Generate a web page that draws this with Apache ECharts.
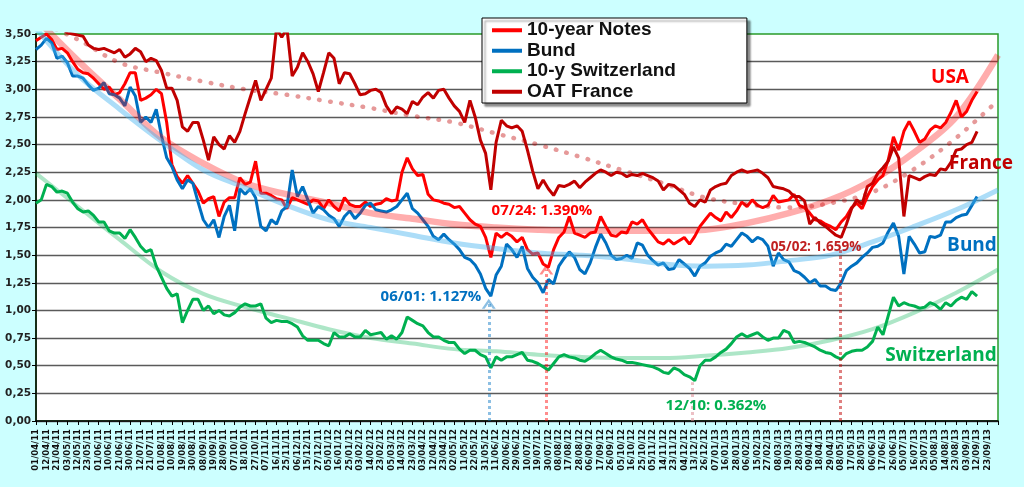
<!DOCTYPE html>
<html>
<head>
<meta charset="utf-8">
<style>
  html, body { margin: 0; padding: 0; background: #ccffff; }
  #chart { width: 1024px; height: 487px; }
</style>
<script src="https://cdn.jsdelivr.net/npm/echarts@6/dist/echarts.min.js"></script>
</head>
<body>
<div id="chart"></div>
<script>
// tick labels (one every ~7 trading days)
const dateLabels = [
  '01/04/11','12/04/11','21/04/11','03/05/11','12/05/11','23/05/11','01/06/11','10/06/11','21/06/11','30/06/11',
  '12/07/11','21/07/11','01/08/11','10/08/11','19/08/11','30/08/11','08/09/11','19/09/11','28/09/11','07/10/11',
  '18/10/11','27/10/11','07/11/11','16/11/11','25/11/11','06/12/11','15/12/11','27/12/11','05/01/12','16/01/12',
  '25/01/12','03/02/12','14/02/12','23/02/12','05/03/12','14/03/12','23/03/12','03/04/12','12/04/12','23/04/12',
  '02/05/12','11/05/12','22/05/12','31/05/12','11/06/12','20/06/12','29/06/12','10/07/12','19/07/12','30/07/12',
  '08/08/12','17/08/12','28/08/12','06/09/12','17/09/12','26/09/12','05/10/12','16/10/12','25/10/12','05/11/12',
  '14/11/12','23/11/12','04/12/12','13/12/12','26/12/12','07/01/13','16/01/13','28/01/13','06/02/13','15/02/13',
  '27/02/13','08/03/13','19/03/13','28/03/13','09/04/13','18/04/13','29/04/13','08/05/13','17/05/13','28/05/13',
  '06/06/13','17/06/13','26/06/13','05/07/13','16/07/13','25/07/13','05/08/13','14/08/13','23/08/13','03/09/13',
  '12/09/13','23/09/13'
];

// yields, two samples per tick label
const usNotes = [
  3.44,3.47,3.50,3.45,3.36,3.37,3.33,3.25,3.18,3.15,
  3.14,3.10,3.05,3.00,3.02,2.95,2.97,3.05,3.15,3.15,
  2.90,2.92,2.95,3.00,2.96,2.70,2.32,2.21,2.15,2.22,
  2.15,2.08,1.97,2.01,2.03,1.85,1.98,2.02,2.02,2.20,
  2.14,2.16,2.35,2.06,2.06,2.04,2.01,2.00,1.92,2.02,
  2.00,1.98,1.96,2.00,1.99,1.92,2.00,1.94,1.90,2.02,
  1.96,1.94,1.94,1.98,1.94,1.96,1.97,2.01,1.99,2.00,
  2.25,2.38,2.28,2.22,2.23,2.05,2.00,1.99,1.97,1.96,
  1.93,1.94,1.88,1.82,1.78,1.76,1.66,1.48,1.70,1.66,
  1.70,1.67,1.62,1.66,1.55,1.51,1.52,1.42,1.39,1.55,
  1.66,1.71,1.85,1.70,1.68,1.66,1.70,1.71,1.85,1.76,
  1.68,1.67,1.71,1.70,1.80,1.78,1.82,1.74,1.68,1.62,
  1.60,1.64,1.60,1.63,1.66,1.60,1.67,1.76,1.82,1.88,
  1.84,1.81,1.89,1.84,1.90,1.98,1.94,2.00,1.95,1.93,
  1.95,2.04,1.98,1.99,2.00,2.05,1.95,1.93,1.88,1.82,
  1.81,1.78,1.76,1.73,1.80,1.85,1.93,1.97,1.92,2.03,
  2.12,2.18,2.22,2.36,2.57,2.45,2.62,2.71,2.62,2.52,
  2.55,2.63,2.67,2.65,2.70,2.79,2.90,2.75,2.80,2.90,
  2.98
];
const bund = [
  3.36,3.40,3.46,3.42,3.28,3.30,3.24,3.12,3.12,3.10,
  3.04,2.99,3.01,3.06,2.96,2.95,2.92,2.85,3.02,2.94,
  2.70,2.75,2.70,2.82,2.58,2.38,2.30,2.18,2.10,2.18,
  2.15,1.98,1.82,1.75,1.82,1.66,1.85,1.95,1.72,2.10,
  2.05,2.10,2.02,1.76,1.72,1.82,1.78,1.90,1.94,2.27,
  2.03,2.12,2.00,1.88,1.94,1.91,1.86,1.83,1.76,1.85,
  1.90,1.83,1.88,1.95,1.97,1.91,1.90,1.89,1.91,1.94,
  2.00,2.06,1.92,1.88,1.82,1.76,1.67,1.64,1.69,1.64,
  1.60,1.55,1.48,1.46,1.41,1.33,1.20,1.13,1.32,1.40,
  1.60,1.55,1.48,1.58,1.38,1.30,1.25,1.16,1.28,1.24,
  1.40,1.47,1.53,1.48,1.37,1.33,1.43,1.57,1.69,1.61,
  1.50,1.46,1.47,1.50,1.47,1.61,1.59,1.50,1.45,1.41,
  1.43,1.37,1.38,1.46,1.42,1.38,1.31,1.40,1.43,1.49,
  1.52,1.54,1.60,1.58,1.64,1.70,1.67,1.62,1.66,1.64,
  1.58,1.40,1.52,1.46,1.44,1.36,1.34,1.30,1.25,1.28,
  1.22,1.22,1.19,1.18,1.25,1.36,1.40,1.43,1.48,1.52,
  1.57,1.58,1.61,1.71,1.79,1.67,1.33,1.67,1.60,1.52,
  1.53,1.67,1.66,1.68,1.80,1.80,1.84,1.86,1.87,1.95,
  2.03
];
const swiss = [
  1.97,2.00,2.14,2.12,2.07,2.08,2.06,1.98,1.92,1.89,
  1.90,1.86,1.80,1.80,1.72,1.70,1.70,1.65,1.73,1.66,
  1.58,1.53,1.55,1.40,1.30,1.20,1.13,1.15,0.89,1.00,
  1.10,1.10,1.00,1.04,0.97,1.00,0.96,0.95,0.98,1.03,
  1.06,1.04,1.04,1.06,0.93,0.89,0.91,0.90,0.90,0.88,
  0.85,0.77,0.73,0.73,0.73,0.70,0.68,0.80,0.76,0.76,
  0.79,0.76,0.76,0.82,0.78,0.79,0.80,0.74,0.77,0.74,
  0.80,0.94,0.91,0.88,0.86,0.80,0.76,0.76,0.73,0.71,
  0.71,0.65,0.61,0.64,0.64,0.60,0.58,0.48,0.58,0.55,
  0.58,0.58,0.60,0.62,0.55,0.54,0.52,0.49,0.46,0.52,
  0.58,0.60,0.58,0.57,0.55,0.54,0.57,0.61,0.64,0.61,
  0.58,0.56,0.55,0.53,0.53,0.52,0.51,0.50,0.49,0.47,
  0.44,0.43,0.48,0.46,0.42,0.40,0.365,0.50,0.55,0.55,
  0.58,0.62,0.65,0.70,0.76,0.79,0.76,0.78,0.80,0.76,
  0.73,0.75,0.75,0.82,0.80,0.71,0.72,0.71,0.69,0.67,
  0.64,0.62,0.61,0.58,0.56,0.61,0.63,0.64,0.64,0.67,
  0.72,0.85,0.78,0.95,1.12,1.04,1.07,1.05,1.04,1.02,
  1.03,1.07,1.05,1.01,1.07,1.04,1.09,1.12,1.10,1.17,
  1.13
];
const oatFrance = [
  3.70,3.68,3.66,3.63,3.60,3.55,3.51,3.50,3.49,3.48,
  3.40,3.37,3.36,3.37,3.35,3.33,3.36,3.29,3.32,3.37,
  3.34,3.25,3.28,3.26,3.17,3.01,3.01,2.90,2.66,2.62,
  2.70,2.70,2.54,2.36,2.57,2.50,2.46,2.58,2.52,2.62,
  2.78,2.93,3.08,2.90,3.00,3.10,3.55,3.47,3.55,3.12,
  3.20,3.33,3.25,3.14,2.98,3.15,3.33,3.28,3.05,3.15,
  3.14,3.05,2.95,2.96,2.99,3.00,2.97,2.85,2.78,2.84,
  2.82,2.78,2.89,2.86,2.93,2.97,2.92,2.99,3.00,2.92,
  2.85,2.80,2.70,2.90,2.75,2.54,2.42,2.09,2.52,2.72,
  2.67,2.65,2.67,2.62,2.45,2.26,2.10,2.18,2.10,2.04,
  2.13,2.12,2.14,2.17,2.11,2.16,2.20,2.24,2.27,2.25,
  2.22,2.25,2.24,2.21,2.23,2.22,2.24,2.22,2.20,2.17,
  2.09,2.14,2.13,2.09,2.05,1.97,1.94,2.00,1.98,2.09,
  2.12,2.14,2.15,2.22,2.25,2.27,2.25,2.26,2.27,2.24,
  2.20,2.12,2.11,2.10,2.08,2.03,2.03,1.99,1.78,1.84,
  1.79,1.76,1.72,1.68,1.66,1.78,1.92,2.00,1.96,2.12,
  2.15,2.24,2.29,2.35,2.48,2.38,1.85,2.22,2.20,2.18,
  2.21,2.23,2.22,2.28,2.27,2.34,2.45,2.46,2.50,2.52,
  2.62
];

// trend curves, one point every 4 tick labels
const usTrend     = [3.64,3.26,2.91,2.56,2.33,2.15,2.05,1.97,1.88,1.83,1.78,1.75,1.73,1.72,1.72,1.72,1.73,1.79,1.88,2.00,2.18,2.43,2.75,3.31];
const bundTrend   = [3.55,3.13,2.82,2.53,2.27,2.11,1.95,1.82,1.75,1.68,1.61,1.56,1.52,1.50,1.47,1.42,1.40,1.41,1.45,1.50,1.62,1.76,1.91,2.09];
const swissTrend  = [2.24,1.94,1.64,1.35,1.15,1.03,0.93,0.83,0.75,0.70,0.65,0.63,0.60,0.58,0.57,0.57,0.59,0.62,0.66,0.73,0.83,0.98,1.16,1.37];
const franceTrend = [3.62,3.45,3.24,3.15,3.07,3.00,2.95,2.89,2.83,2.76,2.70,2.60,2.50,2.39,2.27,2.15,2.02,1.96,1.93,1.97,2.07,2.28,2.56,2.90];

// lows: [date, position on the label scale, yield]
const lowBund   = ['06/01', 43.3, 1.127];
const lowUs     = ['07/24', 48.8, 1.390];
const lowSwiss  = ['12/10', 62.8, 0.362];
const lowFrance = ['05/02', 76.9, 1.659];

const seriesNames = ['10-year Notes', 'Bund', '10-y Switzerland', 'OAT France'];

function onScale(arr, step) {
  return arr.map((v, i) => [i * step, v]);
}

const chevron = 'path://M0,9 L6,0 L12,9 L9.5,9 L6,3.6 L2.5,9 Z';

function lowMarker(low, color, top, arrow) {
  return {
    type: 'line', data: [], silent: true,
    markLine: {
      silent: true, animation: false,
      symbol: ['none', arrow ? chevron : 'none'],
      symbolSize: [14, 10],
      label: { show: false },
      lineStyle: { color: color, width: 3, type: [3, 3] },
      data: [[{ coord: [low[1], 0] }, { coord: [low[1], top] }]]
    }
  };
}

function lineSeries(name, arr, color) {
  return {
    name: name, type: 'line', data: onScale(arr, 0.5),
    symbol: 'none', showSymbol: false,
    lineStyle: { color: color, width: 3 }, itemStyle: { color: color }
  };
}

function trendSeries(arr, style) {
  return {
    name: 'trend', type: 'line', data: onScale(arr, 4), smooth: 0.35,
    symbol: 'none', silent: true, lineStyle: style
  };
}

function lowText(low) {
  return low[0] + ': ' + low[2].toFixed(3) + '%';
}

const txt = (text, x, y, color, size) => ({
  type: 'text', x: x, y: y, silent: true, z: 100,
  style: {
    text: text, fill: color, align: 'center', verticalAlign: 'middle',
    font: 'bold ' + size + 'px "Open Sans", sans-serif'
  }
});

const chart = echarts.init(document.getElementById('chart'));

const splitColors = [];
for (let i = 0; i < 15; i++) splitColors.push('#5a5a5a');

chart.setOption({
  backgroundColor: '#ccffff',
  animation: false,
  grid: {
    left: 36, right: 26, top: 34, bottom: 66,
    show: true, backgroundColor: '#ffffff', borderColor: '#2a9a2a', borderWidth: 1.5
  },
  legend: {
    data: seriesNames,
    orient: 'vertical', left: 482, top: 18,
    padding: [2, 71, 1, 10],
    icon: 'rect', itemWidth: 30, itemHeight: 4, itemGap: 0,
    backgroundColor: '#ffffff', borderColor: '#000000', borderWidth: 1,
    shadowColor: 'rgba(0,0,0,0.45)', shadowBlur: 2, shadowOffsetX: 3, shadowOffsetY: 3,
    textStyle: {
      fontFamily: 'Liberation Sans', fontWeight: 'bold', fontSize: 19,
      color: '#111', lineHeight: 20.5
    }
  },
  xAxis: {
    type: 'value', min: 0, max: 92, interval: 1,
    axisLine: { show: true, onZero: false, lineStyle: { color: '#000', width: 1.5 } },
    axisTick: { show: true, length: 4, lineStyle: { color: '#000' } },
    axisLabel: {
      rotate: 90, margin: 8,
      formatter: v => dateLabels[v] || '',
      fontFamily: 'DejaVu Sans', fontWeight: 'bold', fontSize: 8.5, color: '#111'
    },
    splitLine: { show: false }
  },
  yAxis: {
    type: 'value', min: 0, max: 3.5, interval: 0.25,
    axisLine: { show: true, lineStyle: { color: '#000', width: 1.5 } },
    axisTick: { show: true, length: 4, lineStyle: { color: '#000' } },
    axisLabel: {
      margin: 5,
      formatter: v => v.toFixed(2).replace('.', ','),
      fontFamily: 'DejaVu Sans', fontWeight: 'bold', fontSize: 10.5, color: '#222'
    },
    splitLine: { show: true, showMaxLine: false, lineStyle: { color: splitColors, width: 1.3 } }
  },
  series: [
    lineSeries(seriesNames[0], usNotes, '#ff0000'),
    lineSeries(seriesNames[1], bund, '#0070c0'),
    lineSeries(seriesNames[2], swiss, '#00b050'),
    lineSeries(seriesNames[3], oatFrance, '#c00000'),
    trendSeries(usTrend, { color: 'rgba(255,0,0,0.32)', width: 6.5 }),
    trendSeries(bundTrend, { color: 'rgba(70,180,240,0.45)', width: 5 }),
    trendSeries(swissTrend, { color: 'rgba(0,176,80,0.32)', width: 4 }),
    trendSeries(franceTrend, { color: 'rgba(192,0,0,0.4)', width: 4.5, type: [0.5, 10.5], cap: 'round' }),
    lowMarker(lowBund, 'rgba(0,112,192,0.45)', 1.06, true),
    lowMarker(lowUs, 'rgba(255,0,0,0.45)', 1.37, true),
    lowMarker(lowSwiss, 'rgba(220,140,150,0.55)', 0.35, false),
    lowMarker(lowFrance, 'rgba(192,0,0,0.5)', 1.56, false)
  ],
  graphic: [
    txt('USA', 950, 78, '#ff0000', 19),
    txt('France', 981, 164, '#c00000', 19),
    txt('Bund', 972, 246, '#0070c0', 19),
    txt('Switzerland', 941, 356, '#00b050', 19),
    txt(lowText(lowUs), 542, 211, '#ff0000', 15),
    txt(lowText(lowBund), 431, 297, '#0070c0', 15),
    txt(lowText(lowFrance), 816, 247, '#c02020', 13.5),
    txt(lowText(lowSwiss), 716, 406, '#00b050', 15)
  ]
});
</script>
</body>
</html>
